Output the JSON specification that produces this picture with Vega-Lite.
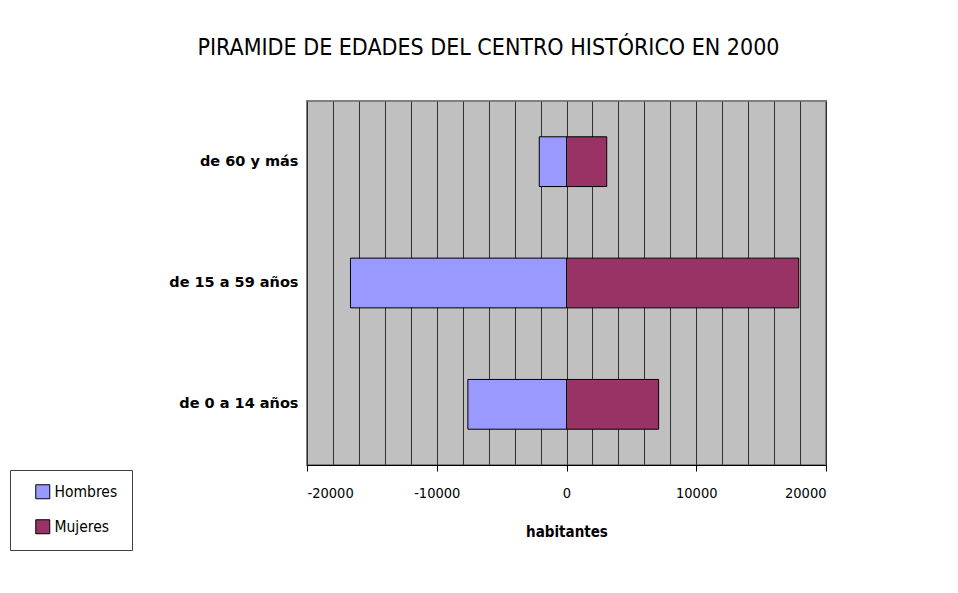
{
  "$schema": "https://vega.github.io/schema/vega-lite/v6.json",
  "autosize": {"type": "none"},
  "padding": {"left": 307, "top": 101, "right": 132, "bottom": 128},
  "width": 519,
  "height": 364,
  "background": "white",
  "title": {
    "text": "PIRAMIDE DE EDADES DEL CENTRO HISTÓRICO EN 2000",
    "font": "DejaVu Sans Condensed, Liberation Sans Narrow, sans-serif",
    "fontSize": 23,
    "fontWeight": "normal",
    "color": "black",
    "anchor": "middle",
    "dx": -78,
    "offset": 41
  },
  "data": {
    "values": [
      {"edad": "de 60 y más", "sexo": "Hombres", "habitantes": -2100},
      {"edad": "de 60 y más", "sexo": "Mujeres", "habitantes": 3100},
      {"edad": "de 15 a 59 años", "sexo": "Hombres", "habitantes": -16650},
      {"edad": "de 15 a 59 años", "sexo": "Mujeres", "habitantes": 17900},
      {"edad": "de 0 a 14 años", "sexo": "Hombres", "habitantes": -7600},
      {"edad": "de 0 a 14 años", "sexo": "Mujeres", "habitantes": 7100}
    ]
  },
  "mark": {"type": "bar", "stroke": "black", "strokeWidth": 1},
  "encoding": {
    "y": {
      "field": "edad",
      "type": "nominal",
      "sort": ["de 60 y más", "de 15 a 59 años", "de 0 a 14 años"],
      "scale": {"paddingInner": 0.59, "paddingOuter": 0.295},
      "axis": {
        "title": null,
        "ticks": false,
        "domain": false,
        "labelFont": "DejaVu Sans, sans-serif",
        "labelFontSize": 14.5,
        "labelFontWeight": "bold",
        "labelColor": "black",
        "labelPadding": 9
      }
    },
    "x": {
      "field": "habitantes",
      "type": "quantitative",
      "stack": null,
      "scale": {"domain": [-20000, 20000], "nice": false},
      "axis": {
        "title": "habitantes",
        "values": [-20000, -18000, -16000, -14000, -12000, -10000, -8000, -6000, -4000, -2000, 0, 2000, 4000, 6000, 8000, 10000, 12000, 14000, 16000, 18000, 20000],
        "labelExpr": "datum.value % 10000 === 0 ? datum.value : ''",
        "format": "d",
        "grid": true,
        "gridColor": "#303030",
        "gridWidth": 1,
        "gridOpacity": 1,
        "ticks": true,
        "tickSize": 6,
        "tickColor": "black",
        "tickOpacity": {"expr": "datum.value % 10000 === 0 ? 1 : 0"},
        "domain": true,
        "domainColor": "black",
        "labelFont": "DejaVu Sans Condensed, Liberation Sans Narrow, sans-serif",
        "labelFontSize": 14.5,
        "labelColor": "black",
        "labelPadding": 15,
        "titleFont": "DejaVu Sans Condensed, Liberation Sans Narrow, sans-serif",
        "titleFontSize": 15,
        "titleFontWeight": "bold",
        "titleColor": "black",
        "titlePadding": 25
      }
    },
    "color": {
      "field": "sexo",
      "type": "nominal",
      "scale": {"domain": ["Hombres", "Mujeres"], "range": ["#9999FF", "#993366"]},
      "legend": {
        "title": null,
        "orient": "none",
        "legendX": -297,
        "legendY": 369,
        "symbolType": "square",
        "symbolSize": 196,
        "symbolStrokeColor": "black",
        "symbolStrokeWidth": 1,
        "symbolOffset": 11,
        "labelFont": "DejaVu Sans Condensed, Liberation Sans Narrow, sans-serif",
        "labelFontSize": 15.5,
        "labelColor": "black",
        "rowPadding": 16,
        "padding": 14,
        "strokeColor": "#404040",
        "fillColor": "white",
        "labelLimit": 200
      }
    }
  },
  "config": {
    "view": {"fill": "#C0C0C0", "stroke": "#808080", "strokeWidth": 2}
  }
}
